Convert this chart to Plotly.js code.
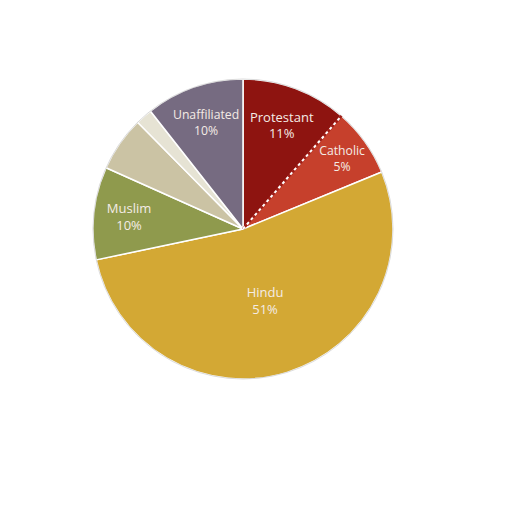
<!DOCTYPE html>
<html>
<head>
<meta charset="utf-8">
<script src="https://cdn.plot.ly/plotly-3.0.1.min.js"></script>
<style>html,body{margin:0;padding:0;background:#fff;}#chart{width:512px;height:512px;}</style>
</head>
<body>
<div id="chart"></div>
<script>
// Data (clockwise from 12 o'clock)
const categories = ["Protestant", "Catholic", "Hindu", "Muslim", "Other", "Other minor", "Unaffiliated"];
const values = [11.4, 7.4, 52.9, 10.0, 5.9, 1.8, 10.6];
const shownPercent = ["11%", "5%", "51%", "10%", "", "", "10%"];
const colors = ["#8e1410", "#c6402c", "#d3a834", "#8f9a4d", "#cbc3a4", "#e6e3d4", "#766b81"];

const labelText = categories.map((c, i) => shownPercent[i] ? c + "<br>" + shownPercent[i] : "");

const domX = [93 / 512, 393 / 512];
const domY = [1 - 379 / 512, 1 - 79 / 512];

// Dotted boundary between Protestant and Catholic, derived from the data
const total = values.reduce((a, b) => a + b, 0);
const ang = 2 * Math.PI * values[0] / total;
const cx = (domX[0] + domX[1]) / 2, cy = (domY[0] + domY[1]) / 2;
const rr = (domX[1] - domX[0]) / 2;
const ex = cx + rr * Math.sin(ang), ey = cy + rr * Math.cos(ang);

const trace = {
  type: "pie",
  labels: categories,
  values: values,
  text: labelText,
  textinfo: "text",
  textposition: "inside",
  insidetextorientation: "horizontal",
  sort: false,
  direction: "clockwise",
  rotation: 0,
  hole: 0,
  marker: { colors: colors, line: { color: "#ffffff", width: 1.5 } },
  textfont: { family: "Open Sans, sans-serif", size: 13, color: "#f4ece6" },
  domain: { x: domX, y: domY },
  showlegend: false,
  hoverinfo: "label+percent"
};

const layout = {
  width: 512, height: 512,
  margin: { l: 0, r: 0, t: 0, b: 0 },
  paper_bgcolor: "#ffffff",
  showlegend: false,
  shapes: [
    { type: "circle", xref: "paper", yref: "paper", x0: domX[0], x1: domX[1], y0: domY[0], y1: domY[1],
      line: { color: "rgba(150,150,150,0.35)", width: 1 } },
    { type: "line", xref: "paper", yref: "paper", x0: cx, y0: cy, x1: ex, y1: ey,
      line: { color: "#a01c15", width: 2.5 } },
    { type: "line", xref: "paper", yref: "paper", x0: cx, y0: cy, x1: ex, y1: ey,
      line: { color: "#ffffff", width: 2, dash: "dot" } }
  ]
};

Plotly.newPlot("chart", [trace], layout, { displayModeBar: false, staticPlot: true });
</script>
</body>
</html>
